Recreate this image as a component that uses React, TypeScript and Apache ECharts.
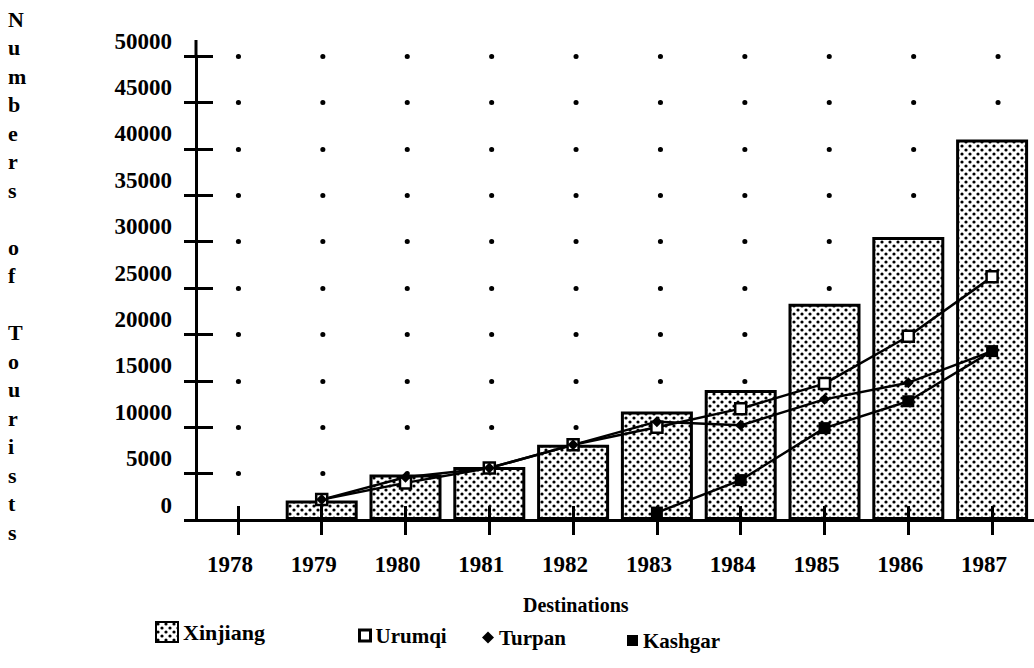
import React, { useEffect, useRef } from "react";
import * as echarts from "echarts";

const years = ["1978", "1979", "1980", "1981", "1982", "1983", "1984", "1985", "1986", "1987"];
const xinjiang = [null, 2100, 4900, 5700, 8100, 11700, 14000, 23300, 30500, 41000];
const urumqi = [null, 2200, 4000, 5600, 8100, 10000, 12000, 14700, 19800, 26200];
const turpan = [null, 2200, 4600, 5600, 8100, 10600, 10200, 13000, 14800, 18200];
const kashgar = [null, null, null, null, null, 800, 4300, 9900, 12800, 18200];
const yMin = 0;
const yMax = 50000;
const yStep = 5000;
const yTitle = "Numbers of Tourists";
const xTitle = "Destinations";

const FONT = "'Liberation Serif', 'DejaVu Serif', serif";

function makeDotTile() {
  const c = document.createElement("canvas");
  c.width = 8;
  c.height = 8;
  const g = c.getContext("2d")!;
  g.fillStyle = "#fff";
  g.fillRect(0, 0, 8, 8);
  g.fillStyle = "#000";
  [
    [2, 2],
    [6, 6],
  ].forEach(([x, y]) => {
    g.beginPath();
    g.arc(x, y, 1.6, 0, Math.PI * 2);
    g.fill();
  });
  return c;
}

export default function App() {
  const ref = useRef<HTMLDivElement>(null);

  useEffect(() => {
    document.body.style.margin = "0";
    if (!ref.current) return;
    const chart = echarts.init(ref.current, undefined, { renderer: "svg" });
    const pattern: any = {
      image: makeDotTile(),
      repeat: "repeat",
      imageWidth: 8,
      imageHeight: 8,
    };
    const legendText = { fontFamily: FONT, fontWeight: "bold", fontSize: 21, color: "#000" };

    chart.setOption({
      animation: false,
      backgroundColor: "#fff",
      grid: { left: 196, right: -6, top: 56, bottom: 148, containLabel: false },
      xAxis: [
        {
          type: "category",
          data: years,
          position: "bottom",
          boundaryGap: true,
          axisLine: { show: true, onZero: false, lineStyle: { color: "#000", width: 3 } },
          axisTick: { show: true, alignWithLabel: true, inside: false, length: 15, lineStyle: { color: "#000", width: 3 } },
          axisLabel: {
            show: true,
            interval: 0,
            margin: 33,
            formatter: (v: string) => `{a|${v}}`,
            rich: {
              a: {
                padding: [0, 16, 0, 0],
                fontFamily: FONT,
                fontWeight: "bold",
                fontSize: 23,
                color: "#000",
              },
            },
          },
          splitLine: { show: false },
        },
        {
          type: "category",
          data: years,
          position: "bottom",
          boundaryGap: true,
          z: 10,
          axisLine: { show: false },
          axisTick: { show: true, alignWithLabel: true, inside: true, length: 14, lineStyle: { color: "#000", width: 3 } },
          axisLabel: { show: false },
          splitLine: { show: false },
        },
      ],
      yAxis: [
        {
          type: "value",
          min: yMin,
          max: yMax,
          interval: yStep,
          position: "left",
          axisLine: { show: true, lineStyle: { color: "#000", width: 3 } },
          axisTick: { show: true, inside: false, length: 12, lineStyle: { color: "#000", width: 3 } },
          axisLabel: {
            margin: 24,
            formatter: (v: number) => String(v),
            verticalAlign: "bottom",
            lineHeight: 30,
            fontFamily: FONT,
            fontWeight: "bold",
            fontSize: 23,
            color: "#000",
          },
          splitLine: {
            show: true,
            showMinLine: false,
            lineStyle: { color: "#000", width: 5, type: [0.1, 84.3], dashOffset: 42.2, cap: "round" },
          },
        },
        {
          type: "value",
          min: yMin,
          max: yMax,
          interval: yStep,
          position: "left",
          axisLine: { show: false },
          axisTick: { show: true, inside: true, length: 17, lineStyle: { color: "#000", width: 3 } },
          axisLabel: { show: false },
          splitLine: { show: false },
        },
      ],
      legend: [
        {
          data: ["Xinjiang"],
          left: 150,
          top: 616,
          itemWidth: 22,
          itemHeight: 20,
          selectedMode: false,
          icon: "rect",
          itemStyle: { color: pattern, borderColor: "#000", borderWidth: 2 },
          textStyle: { ...legendText, fontSize: 22 },
        },
        {
          data: ["Urumqi"],
          left: 353,
          top: 620,
          itemWidth: 11,
          itemHeight: 11,
          selectedMode: false,
          icon: "rect",
          itemStyle: { color: "#fff", borderColor: "#000", borderWidth: 3 },
          textStyle: legendText,
        },
        {
          data: ["Turpan"],
          left: 477,
          top: 622,
          itemWidth: 12,
          itemHeight: 12,
          selectedMode: false,
          icon: "diamond",
          itemStyle: { color: "#000", borderWidth: 0 },
          textStyle: legendText,
        },
        {
          data: ["Kashgar"],
          left: 622,
          top: 625,
          itemWidth: 11,
          itemHeight: 11,
          selectedMode: false,
          icon: "rect",
          itemStyle: { color: "#000", borderWidth: 0 },
          textStyle: legendText,
        },
      ],
      graphic: [
        {
          type: "line",
          shape: { x1: 196, y1: 40, x2: 196, y2: 57 },
          style: { stroke: "#000", lineWidth: 3 },
          silent: true,
        },
        {
          type: "text",
          left: 8,
          top: 5,
          style: {
            text: yTitle.split("").join("\n"),
            fontFamily: FONT,
            fontWeight: "bold",
            fontSize: 22,
            lineHeight: 28.5,
            align: "center",
            fill: "#000",
          },
        },
        {
          type: "text",
          left: 523,
          top: 595,
          style: {
            text: xTitle,
            fontFamily: FONT,
            fontWeight: "bold",
            fontSize: 20,
            fill: "#000",
          },
        },
      ],
      series: [
        {
          name: "Xinjiang",
          type: "bar",
          data: xinjiang,
          barWidth: 72,
          itemStyle: { color: pattern, borderColor: "#000", borderWidth: 3 },
        },
        {
          name: "Urumqi",
          type: "line",
          data: urumqi,
          symbol: "rect",
          symbolSize: 11,
          lineStyle: { color: "#000", width: 2.5 },
          itemStyle: { color: "#fff", borderColor: "#000", borderWidth: 2.5 },
        },
        {
          name: "Turpan",
          type: "line",
          data: turpan,
          symbol: "diamond",
          symbolSize: 11,
          lineStyle: { color: "#000", width: 2.5 },
          itemStyle: { color: "#000" },
        },
        {
          name: "Kashgar",
          type: "line",
          data: kashgar,
          symbol: "rect",
          symbolSize: 12,
          lineStyle: { color: "#000", width: 2.5 },
          itemStyle: { color: "#000" },
        },
      ],
    });
    return () => chart.dispose();
  }, []);

  return <div ref={ref} style={{ width: 1034, height: 668 }} />;
}
